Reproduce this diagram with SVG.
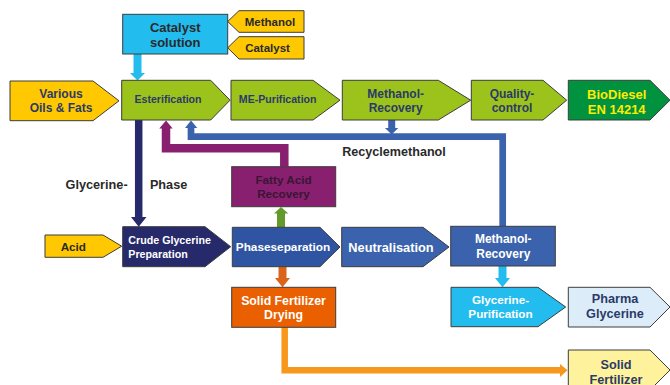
<svg xmlns="http://www.w3.org/2000/svg" width="670" height="385" viewBox="0 0 670 385">
  <style>
    .box { stroke: #3c3c3c; stroke-width: 1; }
    .yellow { fill: #FFC800; }
    .green { fill: #9CC31C; }
    .dgreen { fill: #00923F; }
    .cyan { fill: #22BCEE; }
    .navy { fill: #262A6B; }
    .blue { fill: #3B62AC; }
    .blue2 { fill: #2F55A2; }
    .purple { fill: #88206F; }
    .orange { fill: #EA6000; }
    .lblue { fill: #DCEDF9; }
    .lyellow { fill: #FFF29C; }
    text { font-family: "Liberation Sans", Arial, sans-serif; font-weight: bold; text-anchor: middle; }
    .dark { fill: #2B3A68; }
    .black { fill: #2a2a2a; }
    .white { fill: #ffffff; }
    .gold { fill: #FFEB00; }
    .plum { fill: #3A1535; }
    .conn { fill: none; stroke-linejoin: miter; }
  </style>

  <!-- connectors -->
  <g id="connectors">
    <!-- catalyst solution to esterification -->
    <path d="M137.5 54 V74" class="conn" stroke="#22BCEE" stroke-width="8"/>
    <polygon points="130,73 145,73 137.5,80.5" fill="#22BCEE"/>
    <!-- glycerine phase -->
    <path d="M138.7 120 V218" class="conn" stroke="#262A6B" stroke-width="7.5"/>
    <polygon points="131,217 146.5,217 138.7,226.7" fill="#262A6B"/>
    <!-- fatty acid back to esterification -->
    <path d="M284.3 166.7 V148.3 H166 V127" class="conn" stroke="#88206F" stroke-width="8.5"/>
    <polygon points="159.3,128.5 172.7,128.5 166,120.5" fill="#88206F"/>
    <!-- recycled methanol -->
    <path d="M502.7 226.3 V136.7 H191 V127" class="conn" stroke="#3B62AC" stroke-width="6.7"/>
    <polygon points="185,128 197.3,128 191,120.5" fill="#3B62AC"/>
    <!-- methanol recovery into recycle line -->
    <path d="M391.7 120 V129" class="conn" stroke="#3B62AC" stroke-width="7"/>
    <polygon points="385,128 398.3,128 391.7,134.5" fill="#3B62AC"/>
    <!-- phase separation to fatty acid recovery -->
    <path d="M281 227.3 V212" class="conn" stroke="#64992B" stroke-width="8"/>
    <polygon points="274,213.5 288.3,213.5 281,207" fill="#64992B"/>
    <!-- phase separation to fertilizer drying -->
    <path d="M282.5 266.7 V279" class="conn" stroke="#D9641A" stroke-width="8"/>
    <polygon points="275,278 290,278 282.5,287.3" fill="#D9641A"/>
    <!-- fertilizer drying to solid fertilizer -->
    <path d="M284.7 327.3 V370.3 H561" class="conn" stroke="#F7981D" stroke-width="6.5"/>
    <polygon points="560,364 560,377 567.5,370.3" fill="#F7981D"/>
    <!-- methanol recovery to glycerine purification -->
    <path d="M502.5 266 V279" class="conn" stroke="#22BCEE" stroke-width="8"/>
    <polygon points="495,278 510,278 502.5,287.3" fill="#22BCEE"/>
  </g>

  <g id="methanol">
    <polygon class="box yellow" points="227.7,21.5 239,10.7 304,10.7 304,32.3 239,32.3"/>
    <text class="black" x="270" y="25.7" font-size="11.5">Methanol</text>
  </g>
  <g id="catalyst">
    <polygon class="box yellow" points="227.7,47.8 239,36.7 304,36.7 304,59 239,59"/>
    <text class="black" x="267.5" y="51.8" font-size="11.5">Catalyst</text>
  </g>
  <g id="catalyst-solution">
    <rect class="box cyan" x="122.7" y="14.3" width="105" height="39.7"/>
    <text class="black" x="175.2" y="32" font-size="13">Catalyst</text>
    <text class="black" x="175.2" y="47" font-size="13">solution</text>
  </g>

  <g id="oils-fats">
    <polygon class="box yellow" points="10,81 93,81 119,100.8 93,120.7 10,120.7"/>
    <text class="dark" x="61" y="97.5" font-size="12">Various</text>
    <text class="dark" x="61" y="111.5" font-size="12">Oils &amp; Fats</text>
  </g>
  <g id="esterification">
    <polygon class="box green" points="121.7,80.3 210.7,80.3 230,100.2 210.7,120 121.7,120"/>
    <text class="dark" x="168" y="103" font-size="10.6">Esterification</text>
  </g>
  <g id="me-purification">
    <polygon class="box green" points="231,80.3 313,80.3 340,100.2 313,120 231,120"/>
    <text class="dark" x="277.7" y="103" font-size="10.6">ME-Purification</text>
  </g>
  <g id="methanol-recovery-top">
    <polygon class="box green" points="342.3,80.3 438.3,80.3 470.7,100.2 438.3,120 342.3,120"/>
    <text class="dark" x="395.7" y="98.3" font-size="12">Methanol-</text>
    <text class="dark" x="395.7" y="112" font-size="12">Recovery</text>
  </g>
  <g id="quality-control">
    <polygon class="box green" points="471.3,80.3 543,80.3 566.7,100.2 543,120 471.3,120"/>
    <text class="dark" x="512" y="98.3" font-size="12">Quality-</text>
    <text class="dark" x="512" y="112" font-size="12">control</text>
  </g>
  <g id="biodiesel">
    <polygon class="box dgreen" points="568.3,80.3 650,80.3 670,100.2 650,120 568.3,120"/>
    <text class="gold" x="616.7" y="99" font-size="13">BioDiesel</text>
    <text class="gold" x="616.7" y="113.8" font-size="13">EN 14214</text>
  </g>

  <g id="labels">
    <text class="black" x="96.6" y="189" font-size="12.7">Glycerine-</text>
    <text class="black" x="168.6" y="189" font-size="12.7">Phase</text>
    <text class="black" x="394" y="156" font-size="12.6">Recyclemethanol</text>
  </g>

  <g id="fatty-acid-recovery">
    <rect class="box purple" x="231.7" y="166.7" width="104" height="40"/>
    <text class="plum" x="283.5" y="184.2" font-size="11.7">Fatty Acid</text>
    <text class="plum" x="283.5" y="197.7" font-size="11.7">Recovery</text>
  </g>

  <g id="acid">
    <polygon class="box yellow" points="45,235 103,235 121.7,246.2 103,257.3 45,257.3"/>
    <text class="black" x="73.3" y="250.5" font-size="11.7">Acid</text>
  </g>
  <g id="crude-glycerine">
    <polygon class="box navy" points="122.7,226.7 205,226.7 230.7,246.7 205,266.7 122.7,266.7"/>
    <text class="white" x="128.3" y="244" font-size="10.7" style="text-anchor:start">Crude Glycerine</text>
    <text class="white" x="128.3" y="257.5" font-size="10.7" style="text-anchor:start">Preparation</text>
  </g>
  <g id="phaseseparation">
    <polygon class="box blue2" points="232.3,227.3 320,227.3 340,247 320,266.7 232.3,266.7"/>
    <text class="white" x="283" y="251" font-size="11.8">Phaseseparation</text>
  </g>
  <g id="neutralisation">
    <polygon class="box blue" points="341.7,227.3 423,227.3 449,247 423,266.7 341.7,266.7"/>
    <text class="white" x="391" y="251.5" font-size="12.8">Neutralisation</text>
  </g>
  <g id="methanol-recovery">
    <rect class="box blue" x="450.7" y="226.3" width="104.6" height="39.7"/>
    <text class="white" x="503.3" y="242.5" font-size="12">Methanol-</text>
    <text class="white" x="503.3" y="258" font-size="12">Recovery</text>
  </g>

  <g id="solid-fertilizer-drying">
    <rect class="box orange" x="231.7" y="287.3" width="104" height="40"/>
    <text class="white" x="283.5" y="305" font-size="12.3">Solid Fertilizer</text>
    <text class="white" x="283.5" y="318.8" font-size="12.3">Drying</text>
  </g>
  <g id="glycerine-purification">
    <polygon class="box cyan" points="451,287.3 538,287.3 565.7,307 538,326.7 451,326.7"/>
    <text class="white" x="500.5" y="304" font-size="11.7">Glycerine-</text>
    <text class="white" x="500.5" y="317.7" font-size="11.7">Purification</text>
  </g>
  <g id="pharma-glycerine">
    <polygon class="box lblue" points="568.3,287.3 650,287.3 670,307 650,327 568.3,327"/>
    <text class="dark" x="615" y="303" font-size="12.7">Pharma</text>
    <text class="dark" x="615" y="318" font-size="12.7">Glycerine</text>
  </g>
  <g id="solid-fertilizer">
    <polygon class="box lyellow" points="568.3,350 650,350 670,370 650,390 568.3,390"/>
    <text class="dark" x="616" y="369" font-size="12.7">Solid</text>
    <text class="dark" x="616" y="384" font-size="12.7">Fertilizer</text>
  </g>
</svg>
